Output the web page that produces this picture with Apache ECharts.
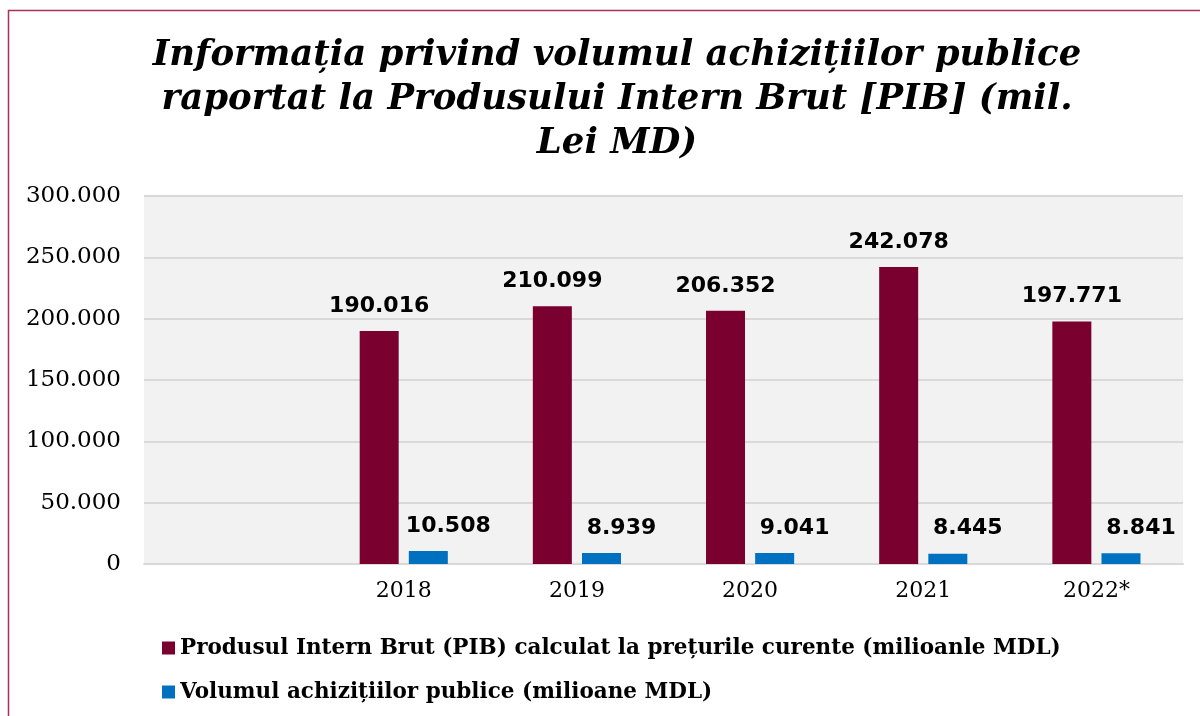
<!DOCTYPE html>
<html>
<head>
<meta charset="utf-8">
<script src="https://cdn.jsdelivr.net/npm/echarts@6/dist/echarts.min.js"></script>
<style>
  html, body { margin: 0; padding: 0; background: #fff; }
  #chart { width: 1200px; height: 716px; }
</style>
</head>
<body>
<div id="chart"></div>
<script>
// categories (first slot is empty, as in the original)
var years = ['', '2018', '2019', '2020', '2021', '2022*'];
var pibValues = [null, 190016, 210099, 206352, 242078, 197771];
var achizValues = [null, 10508, 8939, 9041, 8445, 8841];
var seriesNames = [
  'Produsul Intern Brut (PIB) calculat la prețurile curente (milioanle MDL)',
  'Volumul achizițiilor publice (milioane MDL)'
];

function fmt(v) {
  return String(Math.round(v)).replace(/\B(?=(\d{3})+(?!\d))/g, '.');
}

var serif = '"DejaVu Serif", serif';
var chart = echarts.init(document.getElementById('chart'));

chart.setOption({
  animation: false,
  backgroundColor: '#fff',
  title: {
    text: 'Informația privind volumul achizițiilor publice\nraportat la Produsului Intern Brut [PIB] (mil.\nLei MD)',
    left: 612,
    textAlign: 'center',
    top: 29,
    textStyle: {
      fontFamily: serif,
      fontStyle: 'italic',
      fontWeight: 'bold',
      fontSize: 35.5,
      lineHeight: 44,
      color: '#000'
    }
  },
  graphic: [{
    type: 'rect',
    shape: { x: 8.5, y: 10.5, width: 1400, height: 900 },
    style: { fill: 'none', stroke: '#a8325a', lineWidth: 1.5 },
    silent: true
  }],
  grid: {
    left: 144, right: 17, top: 196, bottom: 152,
    show: true, backgroundColor: '#f2f2f2', borderWidth: 0
  },
  legend: {
    orient: 'vertical',
    left: 157, top: 632,
    itemWidth: 13, itemHeight: 13, itemGap: 22,
    icon: 'rect',
    textStyle: { fontFamily: serif, fontWeight: 'bold', fontSize: 21.5, color: '#000' },
    data: seriesNames
  },
  xAxis: {
    type: 'category',
    data: years,
    axisLine: { lineStyle: { color: '#d9d9d9', width: 2 } },
    axisTick: { show: false },
    axisLabel: { fontFamily: serif, fontSize: 22, color: '#000', margin: 16 }
  },
  yAxis: {
    type: 'value',
    min: 0, max: 300000, interval: 50000,
    axisLine: { show: false },
    axisTick: { show: false },
    splitLine: { lineStyle: { color: '#d9d9d9', width: 2 } },
    axisLabel: {
      fontFamily: serif, fontSize: 23, color: '#000', margin: 23,
      formatter: fmt
    }
  },
  series: [{
    name: seriesNames[0],
    type: 'bar',
    data: pibValues,
    barWidth: 39,
    barGap: '26%',
    itemStyle: { color: '#7a0030' },
    label: {
      show: true, position: 'top', distance: 14,
      fontFamily: '"DejaVu Sans", sans-serif', fontWeight: 'bold', fontSize: 22, color: '#000',
      formatter: function (p) { return fmt(p.value); }
    }
  }, {
    name: seriesNames[1],
    type: 'bar',
    data: achizValues,
    barWidth: 39,
    itemStyle: { color: '#0070c0' },
    label: {
      show: true, position: 'top', distance: 14, offset: [20, 0],
      fontFamily: '"DejaVu Sans", sans-serif', fontWeight: 'bold', fontSize: 22, color: '#000',
      formatter: function (p) { return fmt(p.value); }
    }
  }]
});
</script>
</body>
</html>
